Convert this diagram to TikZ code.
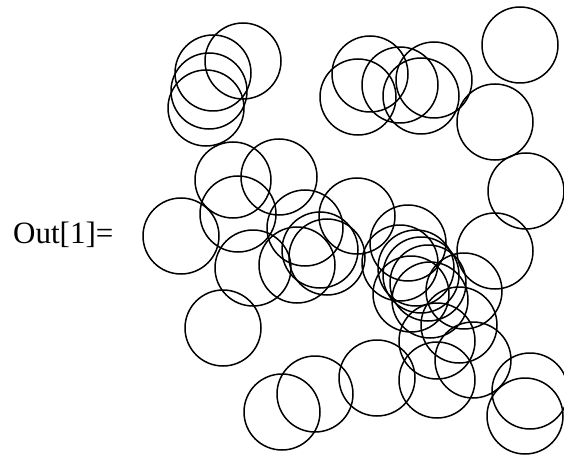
\documentclass[tikz,border=0pt]{standalone}
\usepackage{fontspec}
\setmainfont{Liberation Serif}
\begin{document}
\begin{tikzpicture}[x=1pt,y=-1pt,
  ring/.style={draw=black,line width=1.5pt},
  lbl/.style={inner sep=0pt,anchor=base west,font=\fontsize{31}{36}\selectfont}]
\useasboundingbox (0,0) rectangle (564,457);
\node[lbl] (out) at (13,243) {Out[1]=};
\foreach \x/\y in {
 243/61, 213/73, 209/91, 206/108,
 370/74, 358/97, 400/85, 434/80, 421/96,
 520/45, 495/122,
 526/191, 495/251,
 233/180, 279/177, 238/214, 181/236, 253/268,
 305/228, 357/216, 297/265, 320/250, 327/257,
 223/328,
 282/412, 315/394, 377/378, 437/380, 473/360, 530/391, 525/416,
 437/341, 459/325, 464/291,
 408/243, 400/263, 416/268, 421/275, 428/283, 411/294, 430/300}
 { \draw[ring] (\x,\y) circle[radius=38]; }
\end{tikzpicture}
\end{document}
